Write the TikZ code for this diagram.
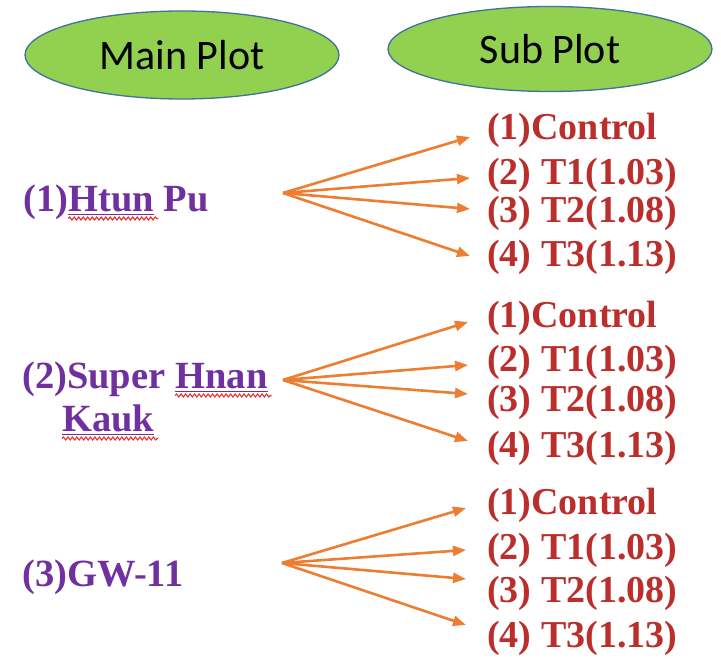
\documentclass[tikz,border=0pt]{standalone}
\usepackage{fontspec}
\setmainfont{Liberation Serif}
\newfontfamily\calib{Carlito}
\usetikzlibrary{shapes.geometric,arrows.meta,decorations.pathmorphing}
\definecolor{ellfill}{HTML}{92D050}
\definecolor{elldraw}{HTML}{41719C}
\definecolor{mainpurple}{HTML}{7030A0}
\definecolor{subred}{HTML}{BA2E2C}
\definecolor{arrorange}{HTML}{ED7D31}
\definecolor{spellred}{HTML}{E03030}
\begin{document}
\begin{tikzpicture}[x=1pt,y=-1pt,
  headell/.style={ellipse, fill=ellfill, draw=elldraw, line width=1.3pt, inner sep=0pt,
    font=\calib\fontsize{42}{46}\selectfont, text=black},
  maintxt/.style={inner sep=0pt, anchor=base west, text=mainpurple,
    font=\fontsize{38.5}{44}\selectfont\bfseries},
  subtxt/.style={inner sep=0pt, anchor=west, text=subred,
    font=\fontsize{38}{44}\selectfont\bfseries},
  fanarrow/.style={draw=arrorange, line width=2.6pt, -{Triangle[length=13pt,width=10pt]}},
  uline/.style={draw=mainpurple, line width=1.3pt},
  spell/.style={draw=spellred, line width=1.1pt, decorate,
    decoration={snake, amplitude=1.5pt, segment length=4.5pt}}
]
\useasboundingbox (0,0) rectangle (721,660);

% header ellipses
\node[headell, minimum width=314pt, minimum height=88pt] (mainplot) at (182,55) {Main Plot};
\node[headell, minimum width=324pt, minimum height=85pt] (subplot) at (550,49) {Sub Plot};

% main plot labels
\node[maintxt] (m1a) at (23,212) {(1)};
\node[maintxt] (m1b) at (m1a.base east) {Htun};
\node[maintxt] (m1c) at ([xshift=9.5pt]m1b.base east) {Pu};

\node[maintxt] (m2a) at (22,389) {(2)Super};
\node[maintxt] (m2b) at ([xshift=9.5pt]m2a.base east) {Hnan};
\node[maintxt] (m2c) at (62,432) {Kauk};

\node[maintxt] (m3) at (22,586) {(3)GW-11};

% underlines
\foreach \w in {m1b,m2b,m2c}{
  \draw[uline] ([yshift=-2.5pt]\w.base west) -- ([yshift=-2.5pt]\w.base east);
  \draw[spell] ([yshift=-6.5pt]\w.base west) -- ([yshift=-6.5pt,xshift=4pt]\w.base east);
}

% sub plot labels
\foreach \g/\ya/\yb/\yc/\yd in {1/130/175/213/257, 2/318/362/402/448, 3/505/550/593/638}{
  \node[subtxt] (s\g a) at (487,\ya) {(1)Control};
  \node[subtxt] (s\g b) at (487,\yb) {(2) T1(1.03)};
  \node[subtxt] (s\g c) at (487,\yc) {(3) T2(1.08)};
  \node[subtxt] (s\g d) at (487,\yd) {(4) T3(1.13)};
}

% fan origins and tips
\coordinate (o1) at (283,193);
\coordinate (t1a) at (470,137);
\coordinate (t1b) at (470,178);
\coordinate (t1c) at (470,209);
\coordinate (t1d) at (470,256);

\coordinate (o2) at (283,380);
\coordinate (t2a) at (468,322);
\coordinate (t2b) at (468,365);
\coordinate (t2c) at (468,394);
\coordinate (t2d) at (468,441);

\coordinate (o3) at (282,563);
\coordinate (t3a) at (466,508);
\coordinate (t3b) at (466,550);
\coordinate (t3c) at (466,579);
\coordinate (t3d) at (466,625);

\foreach \g in {1,2,3}{
  \foreach \k in {a,b,c,d}{
    \draw[fanarrow] (o\g) -- (t\g\k);
  }
}
\end{tikzpicture}
\end{document}
